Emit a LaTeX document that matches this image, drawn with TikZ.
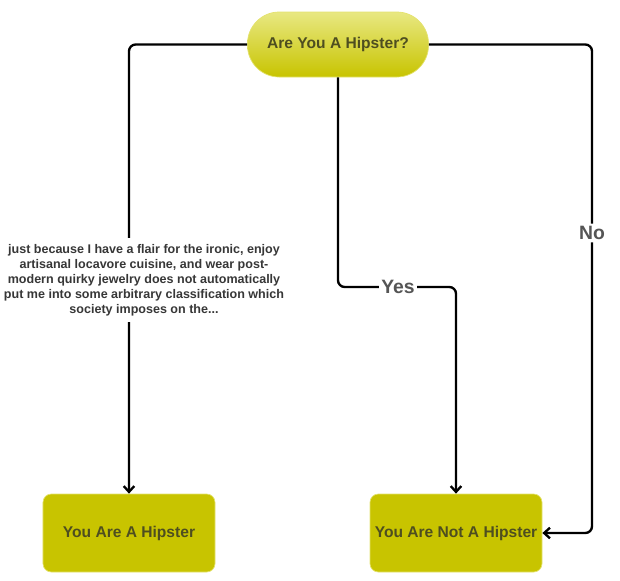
\documentclass[tikz,border=0pt]{standalone}
\usepackage{fontspec}
\setmainfont{Liberation Sans}
\usetikzlibrary{arrows.meta}

\definecolor{boxfill}{RGB}{200,196,0}
\definecolor{pilltop}{RGB}{232,232,130}
\definecolor{boxedge}{RGB}{228,226,110}
\definecolor{boxtext}{RGB}{78,78,32}
\definecolor{labeltext}{RGB}{85,85,85}
\definecolor{bodytext}{RGB}{55,55,55}

\tikzset{
  question/.style={rectangle, rounded corners=0.95cm, top color=pilltop, bottom color=boxfill,
    draw=boxedge, line width=0.6pt, minimum width=5.43cm, minimum height=1.95cm,
    text=boxtext, font=\fontsize{13.3}{15}\selectfont\bfseries},
  answer/.style={rectangle, rounded corners=0.25cm, fill=boxfill, draw=boxedge, line width=0.6pt,
    minimum width=5.16cm, minimum height=2.34cm, inner sep=0pt,
    text=boxtext, font=\fontsize{13.3}{15}\selectfont\bfseries},
  conn/.style={line width=2pt, rounded corners=0.2cm},
  tip/.style={-{Straight Barb[length=5pt,width=9pt]}},
  edgelabel/.style={fill=white, text=labeltext, inner sep=2pt,
    font=\fontsize{16.5}{18}\selectfont\bfseries},
  excuse/.style={fill=white, text=bodytext, align=center, inner xsep=2pt, inner ysep=5pt,
    font=\fontsize{10.7}{12.8}\selectfont\bfseries}
}

\begin{document}
\begin{tikzpicture}[x=0.03cm, y=-0.03cm]
    \useasboundingbox (0,0) rectangle (620,580);

    % Boxes
    \node[question] (q) at (338,44.5) {Are You A Hipster?};
    \node[answer] (hip) at (129,533) {You Are A Hipster};
    \node[answer] (nhip) at (456,533) {You Are Not A Hipster};

    % Left branch
    \draw[conn, tip] (q.west) -| (hip.north);
    \node[excuse] (why) at (144,280) {just because I have a flair for the ironic, enjoy\\
      artisanal locavore cuisine, and wear post-\\
      modern quirky jewelry does not automatically\\
      put me into some arbitrary classification which\\
      society imposes on the...};

    % Yes branch
    \node[edgelabel] (yes) at (398,287) {Yes};
    \draw[conn] (q.south) |- (yes.west);
    \draw[conn, tip] (yes.east) -| (nhip.north);

    % No branch
    \node[edgelabel] (no) at (592,233) {No};
    \draw[conn] (q.east) -| (no.north);
    \draw[conn, tip] (no.south) |- (nhip.east);
\end{tikzpicture}
\end{document}
